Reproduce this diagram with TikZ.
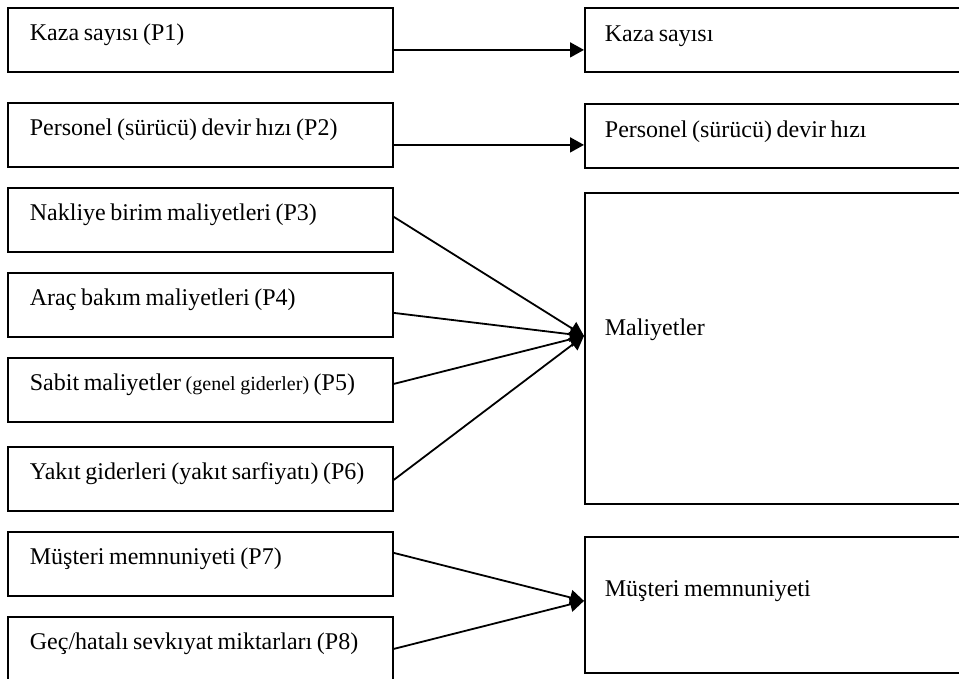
\documentclass[tikz,border=0pt]{standalone}
\usepackage{fontspec}
\setmainfont{Liberation Serif}
\usetikzlibrary{arrows.meta}

\begin{document}
\begin{tikzpicture}[x=0.5pt,y=-0.5pt,
    lbox/.style={draw,line width=0.9pt,anchor=north west,inner sep=0pt,
      text width=192.5pt,align=left,text height=16.5pt,text depth=15.5pt,
      execute at begin node={\spaceskip=2.3pt plus 1pt minus 0.5pt\hspace*{11pt}},
      font=\fontsize{12}{14}\selectfont},
    rbox/.style 2 args={draw,line width=0.9pt,anchor=north west,inner sep=0pt,
      text width=190.5pt,align=left,text height=#1,text depth=#2,
      execute at begin node={\spaceskip=2.3pt plus 1pt minus 0.5pt\hspace*{10pt}},
      font=\fontsize{12}{14}\selectfont},
    pfeil/.style={line width=0.9pt,-{Triangle[length=7pt,width=7.5pt]}}]
  % Rahmen
  \path[use as bounding box,clip] (0,0) rectangle (959,679);
  % linke Kästen
  \node[lbox] (p1) at (7,7)   {Kaza sayısı (P1)};
  \node[lbox] (p2) at (7,102) {Personel (sürücü) devir hızı (P2)};
  \node[lbox] (p3) at (7,187) {Nakliye birim maliyetleri (P3)};
  \node[lbox] (p4) at (7,272) {Araç bakım maliyetleri (P4)};
  \node[lbox] (p5) at (7,357) {Sabit maliyetler {\fontsize{10}{12}\selectfont(genel giderler)} (P5)};
  \node[lbox] (p6) at (7,446) {Yakıt giderleri (yakıt sarfiyatı) (P6)};
  \node[lbox] (p7) at (7,531) {Müşteri memnuniyeti (P7)};
  \node[lbox] (p8) at (7,616) {Geç/hatalı sevkıyat miktarları (P8)};
  % rechte Kästen
  \node[rbox={17pt}{15pt}]   (r1) at (584,7)   {Kaza sayısı};
  \node[rbox={17pt}{15pt}]   (r2) at (584,103) {Personel (sürücü) devir hızı};
  \node[rbox={71.5pt}{84pt}] (r3) at (584,192) {Maliyetler};
  \node[rbox={30pt}{38pt}]   (r4) at (584,536) {Müşteri memnuniyeti};
  % Spitzen
  \coordinate (m3) at ([yshift=6.25pt]r3.west);
  \coordinate (m4) at ([yshift=2pt]r4.west);
  % Pfeile
  \draw[pfeil] ([yshift=-5pt]p1.east) -- ([yshift=-5pt]r1.west);
  \draw[pfeil] ([yshift=-5pt]p2.east) -- ([yshift=-4.5pt]r2.west);
  \draw[pfeil] ([yshift=1.5pt]p3.east) -- (m3);
  \draw[pfeil] ([yshift=-4pt]p4.east) -- (m3);
  \draw[pfeil] ([yshift=3pt]p5.east) -- (m3);
  \draw[pfeil] ([yshift=-0.5pt]p6.east) -- (m3);
  \draw[pfeil] ([yshift=5.5pt]p7.east) -- (m4);
  \draw[pfeil] (p8.east) -- (m4);
\end{tikzpicture}
\end{document}
